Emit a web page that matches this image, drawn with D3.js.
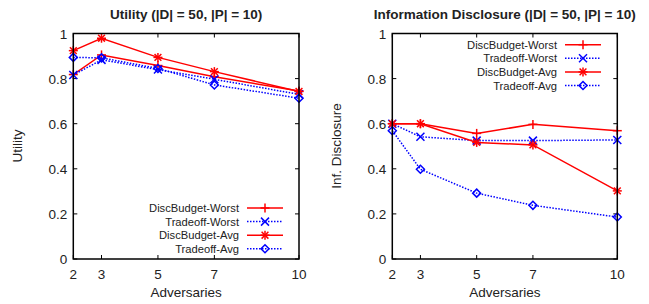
<!DOCTYPE html>
<html lang="en">
<head>
    <meta charset="UTF-8">
    <title>Utility and Information Disclosure</title>
    <style>
        body { margin: 0; background-color: #fff; }
        svg { display: block; }
        text { font-family: "Liberation Sans", Arial, sans-serif; fill: #222; }
    </style>
</head>
<body>
    <script src="https://cdn.jsdelivr.net/npm/d3@7"></script>
<script>

    let width = 649
    let height = 304

    // x values (number of adversaries)
    let adversaries = [2, 3, 5, 7, 10]
    let yTicks = [0, 0.2, 0.4, 0.6, 0.8, 1]

    let seriesNames = ["DiscBudget-Worst", "Tradeoff-Worst", "DiscBudget-Avg", "Tradeoff-Avg"]

    // Utility
    let utilDiscWorst = [0.818, 0.905, 0.858, 0.808, 0.745]
    let utilTradeWorst = [0.816, 0.883, 0.84, 0.797, 0.73]
    let utilDiscAvg = [0.924, 0.979, 0.894, 0.831, 0.743]
    let utilTradeAvg = [0.894, 0.892, 0.845, 0.772, 0.713]

    // Information disclosure
    let discDiscWorst = [0.6, 0.6, 0.557, 0.597, 0.569]
    let discTradeWorst = [0.6, 0.542, 0.525, 0.525, 0.528]
    let discDiscAvg = [0.6, 0.6, 0.517, 0.506, 0.302]
    let discTradeAvg = [0.569, 0.398, 0.292, 0.238, 0.186]

    let styles = [
        {color: "#ff0000", dash: null, marker: "plus"},
        {color: "#0000ff", dash: "1.5,1.5", marker: "cross"},
        {color: "#ff0000", dash: null, marker: "star"},
        {color: "#0000ff", dash: "1.5,1.5", marker: "diamond"}
    ]

    let svg = d3.select("body").append("svg")
        .attr("width", width)
        .attr("height", height)

    function marker(g, type, x, y, color) {
        let s = 4.5
        let m = g.append("g").attr("stroke", color).attr("stroke-width", 1.5).attr("fill", "none")
        if (type == "plus" || type == "star") {
            m.append("line").attr("x1", x - s).attr("x2", x + s).attr("y1", y).attr("y2", y)
            m.append("line").attr("x1", x).attr("x2", x).attr("y1", y - s).attr("y2", y + s)
        }
        if (type == "cross" || type == "star") {
            let c = type == "star" ? 3.4 : 4
            m.append("line").attr("x1", x - c).attr("x2", x + c).attr("y1", y - c).attr("y2", y + c)
            m.append("line").attr("x1", x - c).attr("x2", x + c).attr("y1", y + c).attr("y2", y - c)
        }
        if (type == "diamond") {
            let d = 4
            m.append("path").attr("d", `M${x},${y - d}L${x + d},${y}L${x},${y + d}L${x - d},${y}Z`)
        }
    }

    function draw(opts) {
        let x = d3.scaleLinear().domain([2, 10]).range([opts.left, opts.right])
        let y = d3.scaleLinear().domain([0, 1]).range([259, 33.5])
        let g = svg.append("g")

        // ticks (gnuplot style, inside and mirrored)
        let tl = 4
        yTicks.forEach(t => {
            g.append("line").attr("x1", opts.left).attr("x2", opts.left + tl)
                .attr("y1", y(t)).attr("y2", y(t)).attr("stroke", "#000")
            g.append("line").attr("x1", opts.right).attr("x2", opts.right - tl)
                .attr("y1", y(t)).attr("y2", y(t)).attr("stroke", "#000")
            g.append("text").attr("x", opts.left - 6).attr("y", y(t) + 5)
                .attr("text-anchor", "end").attr("font-size", 13.5).text(d3.format("~g")(t))
        })
        adversaries.forEach(t => {
            g.append("line").attr("x1", x(t)).attr("x2", x(t))
                .attr("y1", y(0)).attr("y2", y(0) - tl).attr("stroke", "#000")
            g.append("line").attr("x1", x(t)).attr("x2", x(t))
                .attr("y1", y(1)).attr("y2", y(1) + tl).attr("stroke", "#000")
            g.append("text").attr("x", x(t)).attr("y", 279)
                .attr("text-anchor", "middle").attr("font-size", 13.5).text(t)
        })

        // series
        let line = d3.line().x((d, i) => x(adversaries[i])).y(d => y(d))
        opts.series.forEach((vals, k) => {
            let st = styles[k]
            g.append("path").datum(vals).attr("d", line)
                .attr("fill", "none").attr("stroke", st.color).attr("stroke-width", 1.5)
                .attr("stroke-dasharray", st.dash)
            vals.forEach((v, i) => marker(g, st.marker, x(adversaries[i]), y(v), st.color))
        })

        // frame
        g.append("rect").attr("x", opts.left).attr("y", y(1))
            .attr("width", opts.right - opts.left).attr("height", y(0) - y(1))
            .attr("fill", "none").attr("stroke", "#000").attr("stroke-width", 1.5)

        // legend
        seriesNames.forEach((name, k) => {
            let st = styles[k]
            let ly = opts.legendY + k * 13.6
            g.append("text").attr("x", opts.legendX).attr("y", ly + 4)
                .attr("text-anchor", "end").attr("font-size", 11.2).text(name)
            g.append("line").attr("x1", opts.legendX + 8).attr("x2", opts.legendX + 44)
                .attr("y1", ly).attr("y2", ly)
                .attr("stroke", st.color).attr("stroke-width", 1.5).attr("stroke-dasharray", st.dash)
            marker(g, st.marker, opts.legendX + 26, ly, st.color)
        })

        // titles
        let cx = (opts.left + opts.right) / 2
        g.append("text").attr("x", cx).attr("y", 19).attr("text-anchor", "middle")
            .attr("font-size", 13.5).attr("font-weight", "bold").text(opts.title)
        g.append("text").attr("x", cx).attr("y", 297).attr("text-anchor", "middle")
            .attr("font-size", 13.5).text("Adversaries")
        g.append("text").attr("transform", `translate(${opts.left - 51},146) rotate(-90)`)
            .attr("text-anchor", "middle").attr("font-size", 13.5).text(opts.ylabel)
    }

    draw({
        left: 73.3, right: 299, title: "Utility (|D| = 50, |P| = 10)", ylabel: "Utility",
        series: [utilDiscWorst, utilTradeWorst, utilDiscAvg, utilTradeAvg],
        legendX: 239, legendY: 208
    })
    draw({
        left: 392.3, right: 617.3, title: "Information Disclosure (|D| = 50, |P| = 10)", ylabel: "Inf. Disclosure",
        series: [discDiscWorst, discTradeWorst, discDiscAvg, discTradeAvg],
        legendX: 557, legendY: 44.7
    })

</script>
</body>
</html>
